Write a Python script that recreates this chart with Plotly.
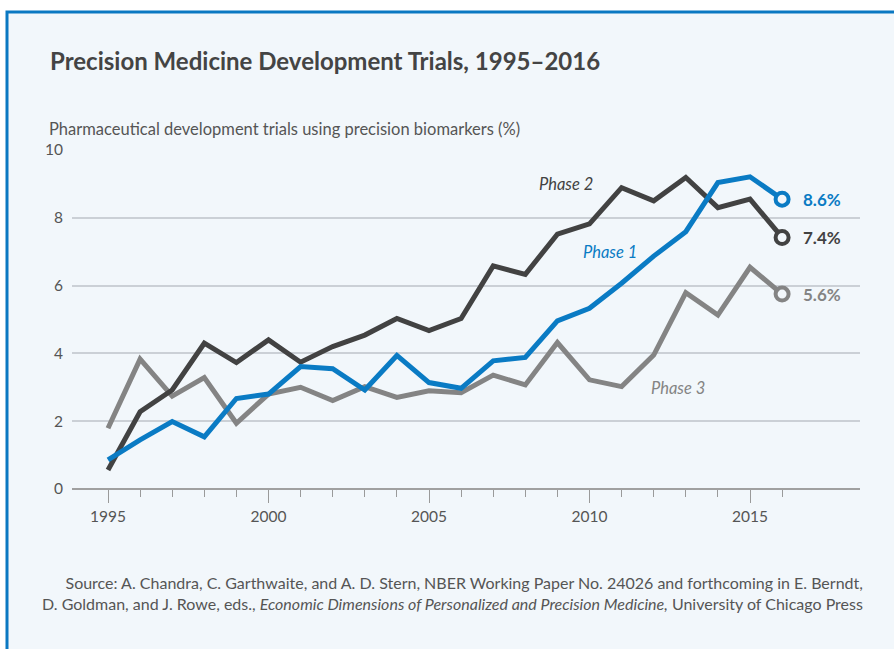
import plotly.graph_objects as go

years = list(range(1995, 2017))
phase1 = [0.86, 1.45, 1.99, 1.54, 2.67, 2.80, 3.61, 3.55, 2.92, 3.94, 3.14, 2.97,
          3.78, 3.88, 4.96, 5.33, 6.07, 6.87, 7.59, 9.04, 9.21, 8.55]
phase2 = [0.56, 2.28, 2.92, 4.30, 3.73, 4.40, 3.74, 4.20, 4.54, 5.03, 4.67, 5.03,
          6.58, 6.33, 7.52, 7.82, 8.89, 8.50, 9.19, 8.30, 8.55, 7.42]
phase3 = [1.79, 3.83, 2.74, 3.29, 1.94, 2.80, 3.00, 2.61, 3.02, 2.70, 2.90, 2.84,
          3.36, 3.07, 4.32, 3.22, 3.02, 3.95, 5.79, 5.13, 6.54, 5.75]
end_labels = {"Phase 1": "8.6%", "Phase 2": "7.4%", "Phase 3": "5.6%"}
major_ticks = [1995, 2000, 2005, 2010, 2015]
minor_ticks = [y for y in years if y not in major_ticks]
yticks = [0, 2, 4, 6, 8, 10]

BLUE = "#0A7BC4"
DARK = "#424242"
GRAY = "#848484"
BG = "#F2F7FB"
TXT = "#555555"
FONT = "Lato"

# body margin is removed below, so figure pixels == window pixels
W, H = 894, 649
L, R, T, B = 72, 34, 150, 160
pw, ph = W - L - R, H - T - B


def px(x):
    return (x - L) / pw


def py(y):
    return (H - B - y) / ph


fig = go.Figure()
series = [("Phase 3", phase3, GRAY), ("Phase 2", phase2, DARK), ("Phase 1", phase1, BLUE)]
for name, vals, col in series:
    fig.add_trace(go.Scatter(x=years, y=vals, mode="lines", name=name,
                             line=dict(color=col, width=5), showlegend=False,
                             hoverinfo="skip"))
for name, vals, col in series:
    fig.add_trace(go.Scatter(x=[years[-1]], y=[vals[-1]], mode="markers",
                             marker=dict(size=13, color=BG, line=dict(color=col, width=4)),
                             cliponaxis=False, showlegend=False, hoverinfo="skip"))
    fig.add_annotation(x=years[-1], y=vals[-1], xshift=19, xanchor="left", yanchor="middle",
                       text="<b>" + end_labels[name] + "</b>", showarrow=False,
                       font=dict(family=FONT, size=17, color=col))

# series labels
fig.add_annotation(x=2009.27, y=9.0, text="<i>Phase 2</i>", showarrow=False,
                   font=dict(family=FONT, size=16.5, color=DARK), xanchor="center")
fig.add_annotation(x=2010.64, y=7.0, text="<i>Phase 1</i>", showarrow=False,
                   font=dict(family=FONT, size=16.5, color=BLUE), xanchor="center")
fig.add_annotation(x=2012.76, y=2.98, text="<i>Phase 3</i>", showarrow=False,
                   font=dict(family=FONT, size=16.5, color=GRAY), xanchor="center")

# frame
fig.add_shape(type="rect", xref="paper", yref="paper",
              x0=px(7), x1=px(920), y0=py(680), y1=py(12),
              fillcolor=BG, line=dict(color="#0A78C2", width=3), layer="below")

# title, axis title, source
fig.add_annotation(xref="paper", yref="paper", x=px(48), y=py(61), xanchor="left",
                   yanchor="middle", showarrow=False,
                   text="<b>Precision Medicine Development Trials, 1995–2016</b>",
                   font=dict(family=FONT, size=24, color="#444444"))
fig.add_annotation(xref="paper", yref="paper", x=px(47), y=py(129), xanchor="left",
                   yanchor="middle", showarrow=False,
                   text="Pharmaceutical development trials using precision biomarkers (%)",
                   font=dict(family=FONT, size=16.5, color=TXT))
fig.add_annotation(xref="paper", yref="paper", x=px(865), y=py(593), xanchor="right",
                   yanchor="middle", showarrow=False, align="right",
                   text=("Source: A. Chandra, C. Garthwaite, and A. D. Stern, NBER Working Paper No. 24026 and forthcoming in E. Berndt,<br>"
                         "D. Goldman, and J. Rowe, eds., <i>Economic Dimensions of Personalized and Precision Medicine,</i> University of Chicago Press"),
                   font=dict(family=FONT, size=16, color=TXT))

fig.update_layout(
    width=W, height=H, margin=dict(l=L, r=R, t=T, b=B),
    paper_bgcolor="white", plot_bgcolor="rgba(0,0,0,0)",
    font=dict(family=FONT, color=TXT),
    xaxis=dict(range=[1995 - 36 / 32.1, 1995 + 752 / 32.1], tickmode="array",
               tickvals=major_ticks, ticktext=[str(v) for v in major_ticks],
               ticks="outside", ticklen=13, tickcolor="#9A9A9A", tickwidth=1,
               showgrid=False, zeroline=False, showline=False,
               tickfont=dict(family=FONT, size=15.5, color=TXT),
               minor=dict(tickmode="array", tickvals=minor_ticks, ticks="outside",
                          ticklen=7, tickcolor="#9A9A9A", tickwidth=1, showgrid=False)),
    yaxis=dict(range=[0, 10], tickmode="array", tickvals=yticks,
               showgrid=True, gridcolor="#CBD0D6", gridwidth=1.5,
               zeroline=True, zerolinecolor="#A0A0A0", zerolinewidth=1.5,
               showline=False, ticks="", ticklabelstandoff=8,
               tickfont=dict(family=FONT, size=15.5, color=TXT)),
)

fig.write_html("out.html", config={"displayModeBar": False},
               post_script="document.body.style.margin='0px';")
